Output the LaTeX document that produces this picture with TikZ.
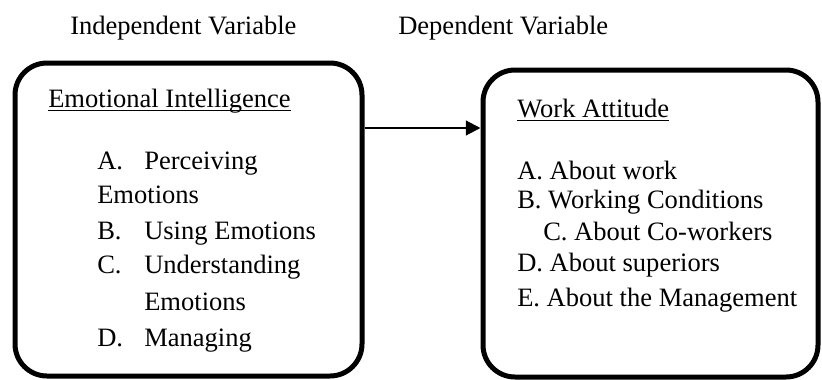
\documentclass[tikz,border=0pt]{standalone}
\usepackage{fontspec}
\setmainfont{Liberation Serif}
\usetikzlibrary{arrows.meta}
\begin{document}
\begin{tikzpicture}[x=0.75pt,y=-0.75pt,
		txt/.style={anchor=base west, inner sep=0pt, font=\fontsize{19.9}{24}\selectfont},
		frame/.style={draw, line width=3.75pt, rounded corners=24pt, inner sep=0pt}]
		\useasboundingbox (0,0) rectangle (822,379);
		% headings
		\node[txt] (iv) at (70,34) {Independent Variable};
		\node[txt] (dv) at (398,34) {Dependent Variable};
		% the two boxes
		\node[frame, minimum width=260.25pt, minimum height=234.75pt] (ei) at (188.5,219.5) {};
		\node[frame, minimum width=251.25pt, minimum height=230.25pt] (wa) at (650.5,223.5) {};
		\coordinate (lvl) at (0,128);
		\draw[line width=1.6pt, -{Triangle[length=11pt, width=11pt]}] (ei.east |- lvl) -- (wa.west |- lvl);
		% left box
		\node[txt] (eit) at (48,107) {Emotional Intelligence};
		\draw[line width=0.9pt] ([yshift=-2.5pt]eit.base west) -- ([yshift=-2.5pt]eit.base east);
		\node[txt] (ea) at (97,169) {A.};
		\node[txt] (eat) at (144,169) {Perceiving};
		\node[txt] (eaw) at (97,203) {Emotions};
		\node[txt] (eb) at (97,239) {B.};
		\node[txt] (ebt) at (144,239) {Using Emotions};
		\node[txt] (ec) at (97,273) {C.};
		\node[txt] (ect) at (144,273) {Understanding};
		\node[txt] (ecw) at (144,310) {Emotions};
		\node[txt] (ed) at (97,346) {D.};
		\node[txt] (edt) at (144,346) {Managing};
		% right box
		\node[txt] (wat) at (517,117) {Work Attitude};
		\draw[line width=0.9pt] ([yshift=-2.5pt]wat.base west) -- ([yshift=-2.5pt]wat.base east);
		\node[txt] (wa1) at (517,179) {A. About work};
		\node[txt] (wa2) at (517,208) {B. Working Conditions};
		\node[txt] (wa3) at (543,240) {C. About Co-workers};
		\node[txt] (wa4) at (517,271) {D. About superiors};
		\node[txt] (wa5) at (517,306) {E. About the Management};
	\end{tikzpicture}
\end{document}
